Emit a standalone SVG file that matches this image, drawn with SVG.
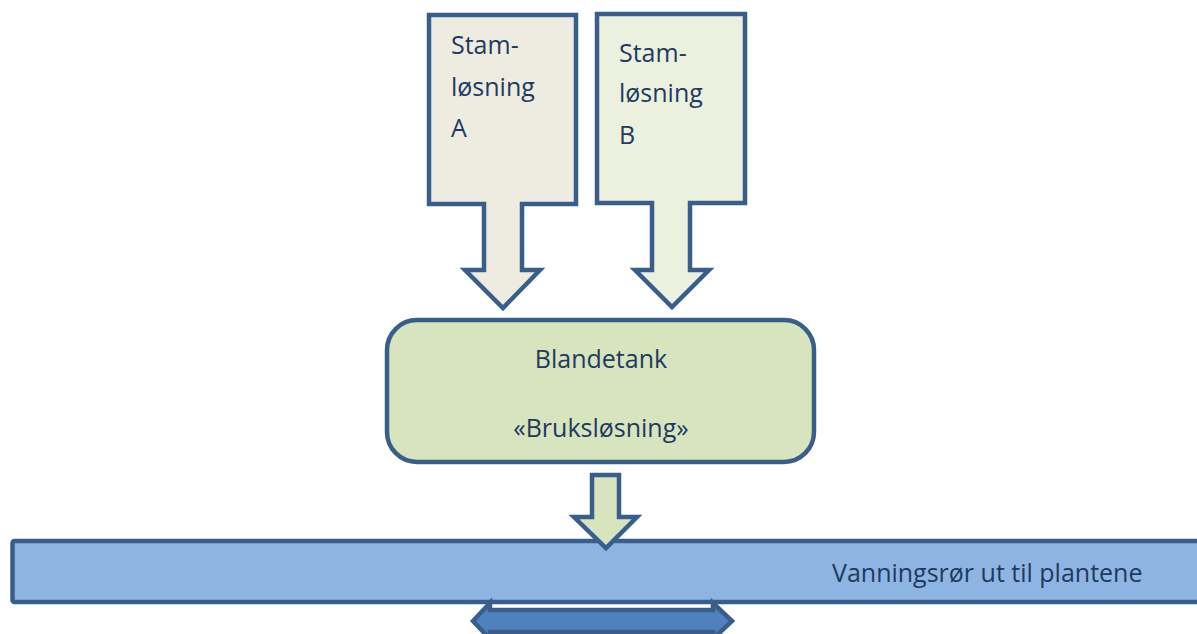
<svg xmlns="http://www.w3.org/2000/svg" width="1197" height="634" viewBox="0 0 1197 634">
  <style>
    .shape { stroke: #3A5E8C; stroke-width: 4.5; stroke-linejoin: miter; }
    .lbl { font-family: "Open Sans", "Liberation Sans", sans-serif; font-size: 25px; fill: #1F3A60; }
  </style>
  <rect width="1197" height="634" fill="#FFFFFF"/>
  <g id="pipe">
    <rect class="shape" x="12.5" y="541" width="1200" height="61" rx="2" fill="#8EB4E3"/>
    <text class="lbl" x="832" y="582">Vanningsrør ut til plantene</text>
  </g>
  <g id="stamlosning-a">
    <path class="shape" fill="#EEECE1" d="M429,15 H576 V204 H522 V270 H540 L503,308 L465,270 H484 V204 H429 Z"/>
    <text class="lbl" x="451" y="54">Stam-</text>
    <text class="lbl" x="451" y="96">løsning</text>
    <text class="lbl" x="451" y="137">A</text>
  </g>
  <g id="stamlosning-b">
    <path class="shape" fill="#EBF1DE" d="M597,14 H745 V203 H690 V270 H709 L672,307 L635,270 H652 V203 H597 Z"/>
    <text class="lbl" x="619" y="62">Stam-</text>
    <text class="lbl" x="619" y="102">løsning</text>
    <text class="lbl" x="619" y="144">B</text>
  </g>
  <g id="blandetank">
    <rect class="shape" x="387" y="320" width="427" height="142" rx="30" fill="#D7E4BD"/>
    <text class="lbl" x="601" y="368" text-anchor="middle">Blandetank</text>
    <text class="lbl" x="601" y="437" text-anchor="middle">«Bruksløsning»</text>
  </g>
  <g id="connectors">
    <path class="shape" fill="#D7E4BD" d="M592,475 H619 V517 H637 L606,548 L574,517 H592 Z"/>
    <path class="shape" fill="#4F81BD" d="M473,621 L490,603 V610 H713 V603 L732,621 L713,639 V632 H490 V639 Z"/>
  </g>
</svg>
